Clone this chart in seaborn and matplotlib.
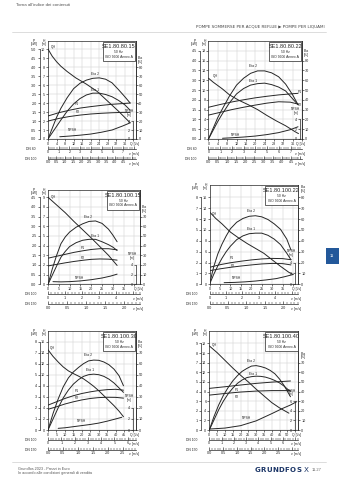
import numpy as np
import matplotlib
matplotlib.use("Agg")
import matplotlib.pyplot as plt
import seaborn as sns
from matplotlib.patches import Rectangle
from matplotlib.lines import Line2D
from matplotlib.ticker import MultipleLocator

# ---------------- SE1.80.80.15 ----------------
c1_q = [0, 2, 4, 6, 9, 13, 18, 23, 28, 33, 38.5]
c1_h = [10.0, 9.2, 8.6, 8.1, 7.5, 6.8, 6.1, 5.3, 4.2, 3.1, 1.8]
c1_q_eta = [0, 2, 4, 6, 9, 12, 15, 18, 21, 24, 27, 30, 33, 36, 38.5]
c1_eta1 = [0, 7, 14, 21, 31, 39, 45, 49, 51, 51, 49.5, 47, 43, 38, 32]
c1_eta2 = [0, 12, 24, 34, 46, 56, 62, 65.5, 67.5, 68, 66.5, 62.5, 55, 47, 40]
c1_q_p = [0, 5, 10, 15, 20, 25, 30, 35, 38.5]
c1_p1 = [1.28, 1.46, 1.6, 1.72, 1.8, 1.87, 1.93, 1.97, 2.0]
c1_p2 = [1.0, 1.14, 1.25, 1.33, 1.39, 1.43, 1.46, 1.48, 1.48]
c1_q_npsh = [5.5, 10, 15, 20, 25, 30, 35, 38.5]
c1_npsh = [0.5, 0.65, 0.85, 1.1, 1.5, 2.0, 2.9, 3.6]

# ---------------- SE1.80.80.22 ----------------
c2_q = [0, 2, 4, 6, 9, 13, 17, 21, 25, 29, 33, 37, 38.5]
c2_h = [12.4, 11.6, 10.9, 10.2, 9.0, 7.9, 7.0, 6.0, 4.8, 3.7, 2.7, 1.5, 1.1]
c2_q_eta = [0, 2, 4, 6, 9, 12, 15, 18, 21, 24, 27, 30, 33, 36, 38.3]
c2_eta1 = [0, 9, 18, 26, 37, 46, 51.5, 55, 56.5, 57, 55.5, 53, 49, 41, 35]
c2_eta2 = [0, 11, 22, 31, 44, 55, 62, 67, 69.5, 69.5, 67.5, 63.5, 56, 45, 35]
c2_q_p = [0, 5, 10, 15, 20, 25, 30, 35, 38.3]
c2_p1 = [1.62, 1.76, 1.89, 2.0, 2.1, 2.18, 2.25, 2.3, 2.33]
c2_p2 = [1.22, 1.36, 1.5, 1.62, 1.73, 1.83, 1.9, 1.88, 1.78]
c2_q_npsh = [6, 10, 15, 20, 25, 30, 35, 38.3]
c2_npsh = [0.15, 0.25, 0.4, 0.6, 0.9, 1.3, 1.9, 2.5]

# ---------------- SE1.80.100.15 ----------------
c3_q = [0, 4, 8, 12, 16, 20, 24, 28, 32]
c3_h = [9.0, 8.2, 7.4, 6.5, 5.65, 4.8, 3.9, 3.0, 1.95]
c3_q_eta = [0, 2, 4, 6, 8, 10, 13, 16, 19, 22, 25, 28, 30, 32]
c3_eta1 = [0, 9.5, 19, 28, 34, 39, 43, 45.5, 46.5, 46.5, 44, 41, 38.5, 35]
c3_eta2 = [0, 16, 30, 42, 49, 54, 59, 62.5, 65, 65.5, 63, 57, 51, 44]
c3_q_p = [0, 4, 8, 12, 16, 20, 24, 28, 32]
c3_p1 = [1.35, 1.45, 1.55, 1.65, 1.73, 1.8, 1.84, 1.84, 1.78]
c3_p2 = [0.95, 1.03, 1.11, 1.18, 1.24, 1.29, 1.31, 1.3, 1.25]
c3_q_npsh = [2.3, 6, 10, 15, 20, 25, 29, 32]
c3_npsh = [0.55, 0.5, 0.55, 0.7, 0.95, 1.3, 1.7, 2.1]

# ---------------- SE1.80.100.22 ----------------
c4_q = [0, 3, 6, 10, 14, 18, 22, 26, 30, 34, 38, 40]
c4_h = [13.3, 12.1, 11.1, 9.6, 8.5, 7.5, 6.6, 5.7, 4.5, 3.3, 2.2, 1.8]
c4_q_eta = [0, 2, 4, 6, 8, 10, 13, 16, 19, 22, 25, 28, 31, 34, 37, 39]
c4_eta1 = [0, 9, 17, 24, 30, 35, 41, 44.5, 46.5, 47, 47, 45, 41.5, 36.5, 28.5, 22.5]
c4_eta2 = [0, 16, 28, 37, 44.5, 51, 57, 60.5, 62.5, 63, 62, 59.5, 55.5, 50.5, 41.5, 31.5]
c4_q_p = [0, 5, 10, 15, 20, 25, 30, 35, 39]
c4_p1 = [1.56, 1.8, 1.98, 2.12, 2.24, 2.33, 2.38, 2.36, 2.26]
c4_p2 = [1.25, 1.42, 1.56, 1.68, 1.78, 1.87, 1.92, 1.9, 1.78]
c4_q_npsh = [7, 12, 17, 22, 27, 32, 36, 40]
c4_npsh = [0.3, 0.35, 0.45, 0.6, 0.8, 1.05, 1.4, 1.8]

# ---------------- SE1.80.100.30 ----------------
c5_q = [0, 3, 6, 9, 12, 15, 18, 21, 24, 27, 30, 33, 36, 39, 42, 44.6]
c5_h = [14.5, 13.3, 12.3, 11.4, 10.7, 10.2, 9.75, 9.25, 8.6, 7.9, 7.1, 6.2, 5.3, 4.4, 3.4, 2.4]
c5_q_eta = [0, 3, 6, 9, 12, 15, 18, 21, 24, 27, 30, 33, 36, 39, 42, 44.6]
c5_eta1 = [0, 10, 20, 29, 36, 41.5, 45.5, 48.5, 50, 50.5, 50, 48.5, 46, 42.5, 38, 34]
c5_eta2 = [0, 15, 28, 39, 47, 52.5, 56.5, 60, 62.5, 63.2, 63, 61.5, 59, 55, 49, 40]
c5_q_p = [0, 5, 10, 15, 20, 25, 30, 35, 40, 44.6]
c5_p1 = [2.25, 2.55, 2.85, 3.1, 3.3, 3.45, 3.57, 3.65, 3.68, 3.6]
c5_p2 = [1.87, 2.1, 2.35, 2.55, 2.72, 2.85, 2.93, 2.96, 2.95, 2.88]
c5_q_npsh = [6, 10, 15, 20, 25, 30, 35, 40, 43.6]
c5_npsh = [0.3, 0.4, 0.6, 0.8, 1.0, 1.25, 1.6, 2.0, 2.3]

# ---------------- SE1.80.100.40 ----------------
c6_q = [0, 5, 10, 15, 20, 25, 30, 35, 40, 45, 51]
c6_h = [17.5, 16.1, 14.5, 12.9, 11.4, 10.0, 8.5, 7.1, 5.7, 4.6, 3.5]
c6_q_eta = [0, 3, 6, 9, 12, 15, 18, 21, 24, 27, 30, 33, 36, 39, 42, 45, 48, 52]
c6_eta1 = [0, 10.5, 21, 30, 37.5, 43.5, 48.5, 52, 54.5, 55.5, 56, 55.8, 55, 53.5, 51.5, 49, 45.5, 39.8]
c6_eta2 = [0, 14, 26, 36, 44, 51, 56.5, 61, 64, 66.5, 67, 66, 64.5, 62, 58.5, 53, 46, 34.6]
c6_q_p = [0, 10, 20, 30, 40, 52]
c6_p1 = [4.33, 4.5, 4.68, 4.85, 4.98, 5.1]
c6_p2 = [3.63, 3.8, 3.95, 4.05, 4.1, 4.1]
c6_q_npsh = [0, 10, 20, 25, 30, 36, 40, 47, 52, 56]
c6_npsh = [0.2, 0.4, 0.9, 1.4, 1.9, 2.8, 3.4, 4.5, 5.2, 5.9]

# ---------------- styling ----------------
sns.set_theme(style="white")
plt.rcParams["font.family"] = ["Liberation Sans", "DejaVu Sans"]
plt.rcParams["axes.linewidth"] = 0.5
plt.rcParams["xtick.bottom"] = True
plt.rcParams["ytick.left"] = True

INK = "#262626"
GRID = "#cdcdcd"
FS = 2.7
LW = 0.7

W, HPX = 339, 480
fig = plt.figure(figsize=(W / 100, HPX / 100), dpi=100)
fig.patch.set_facecolor("white")


def fx(x):
    return x / W


def fy(y):
    return 1 - y / HPX


def pt(px):
    return px * 0.72


def tick_style(a, axis="both", **sides):
    a.tick_params(axis=axis, labelsize=FS, length=1.3, width=0.45, pad=0.8,
                  colors=INK, **sides)


def draw_chart(spec, s):
    l, t, r, b = spec["box"]
    wpx, hpx = r - l, b - t
    qmax, hmax = spec["qmax"], spec["hmax"]
    ax = fig.add_axes([fx(l), fy(b), fx(r) - fx(l), fy(t) - fy(b)])
    axP = ax.twinx()
    axE = ax.twinx()
    axN = ax.twinx()

    kw = dict(color=INK, linewidth=LW, sort=False, estimator=None, legend=False)
    sns.lineplot(x=s["q"], y=s["h"], ax=ax, **kw)
    sns.lineplot(x=s["q_eta"], y=s["eta1"], ax=axE, **kw)
    sns.lineplot(x=s["q_eta"], y=s["eta2"], ax=axE, **kw)
    sns.lineplot(x=s["q_p"], y=s["p1"], ax=axP, **kw)
    sns.lineplot(x=s["q_p"], y=s["p2"], ax=axP, **kw)
    sns.lineplot(x=s["q_npsh"], y=s["npsh"], ax=axN, **kw)

    ax.set_xlim(0, qmax)
    ax.set_ylim(0, hmax)
    axP.set_ylim(0, hmax * spec["p_per_h"])
    axE.set_ylim(spec["eta0"], spec["eta0"] + hmax * spec["eta_per_h"])
    axN.set_ylim(0, hmax * spec["npsh_per_h"])
    for a in (ax, axP, axE, axN):
        a.set_xlabel("")
        a.set_ylabel("")

    # flow axis and head axis
    qt = np.arange(0, qmax + 1e-9, spec["qstep"])
    cut = qmax * (1 - 8 / wpx)
    ax.set_xticks(qt)
    ax.set_xticklabels([f"{v:g}" if v <= cut else "" for v in qt])
    ht = np.arange(0, spec["htop"] + 1e-9, spec["hstep"])
    ax.set_yticks(ht)
    ax.set_yticklabels([f"{v:g}" for v in ht])
    ax.grid(True, color=GRID, lw=0.35)
    tick_style(ax, bottom=True, left=True)
    for sp in ax.spines.values():
        sp.set_color(INK)
        sp.set_linewidth(0.5)
    ax.annotate("Q [l/s]", xy=(1, 0), xycoords="axes fraction",
                xytext=(pt(3.2), -2.1), textcoords="offset points",
                ha="right", va="top", fontsize=FS * 0.92, color=INK)

    # power axis (outer left)
    for k in ("top", "right", "bottom"):
        axP.spines[k].set_visible(False)
    axP.spines["left"].set_visible(True)
    axP.spines["left"].set_position(("outward", pt(8.5)))
    axP.spines["left"].set_color(INK)
    axP.spines["left"].set_linewidth(0.5)
    axP.yaxis.set_ticks_position("left")
    p_ticks = ht * spec["p_per_h"]
    axP.set_yticks(p_ticks)
    axP.set_yticklabels([spec["pfmt"] % v for v in p_ticks])
    axP.spines["left"].set_bounds(0, p_ticks[-1])
    tick_style(axP, "y", left=True, right=False)

    # efficiency axis (right)
    for k in ("top", "left", "bottom"):
        axE.spines[k].set_visible(False)
    axE.spines["right"].set_color(INK)
    axE.spines["right"].set_linewidth(0.5)
    axE.yaxis.set_ticks_position("right")
    eta_ticks = spec["eta_ticks"]
    axE.set_yticks(eta_ticks)
    axE.set_yticklabels([f"{v:g}" for v in eta_ticks])
    tick_style(axE, "y", right=True, left=False)

    # NPSH axis (inside, right)
    for k in ("top", "right", "bottom"):
        axN.spines[k].set_visible(False)
    axN.spines["left"].set_visible(True)
    axN.spines["left"].set_color(INK)
    axN.spines["left"].set_linewidth(0.5)
    axN.spines["left"].set_position(("axes", spec["npos"]))
    axN.yaxis.set_ticks_position("left")
    n_ticks = spec["npsh_ticks"]
    axN.set_yticks(n_ticks)
    axN.set_yticklabels([f"{v:g}" for v in n_ticks])
    axN.spines["left"].set_bounds(0, n_ticks[-1])
    tick_style(axN, "y", left=True, right=False)

    # axis headings
    def hy(hval):
        return b - hval / hmax * hpx

    fig.text(fx(l - 14), fy(t + 1.5), "P\n[kW]", ha="center", va="center",
             fontsize=FS * 0.9, color=INK, linespacing=0.95)
    fig.text(fx(l - 4), fy(t + 1.5), "H\n[m]", ha="center", va="center",
             fontsize=FS * 0.9, color=INK, linespacing=0.95)
    e_top = (eta_ticks[-1] - spec["eta0"]) / spec["eta_per_h"]
    fig.text(fx(r + 2), fy(hy(e_top + 0.75 * spec["hstep"])), "Eta\n[%]",
             ha="left", va="center", fontsize=FS * 0.9, color=INK,
             linespacing=0.95)
    n_top = n_ticks[-1] / spec["npsh_per_h"]
    nx = l + spec["npos"] * wpx
    fig.text(fx(nx - 4), fy(hy(n_top + 0.9 * spec["hstep"])), "NPSH\n[m]",
             ha="center", va="center", fontsize=FS * 0.9, color=INK,
             linespacing=0.95)

    # curve names
    for txt, q, h in spec["labels"]:
        ax.text(q, h, txt, fontsize=FS * 0.9, color=INK, ha="center",
                va="center")

    # model box
    bx0, bx1 = r - 33, r - 0.6
    by0, by1 = t + 0.6, t + 20
    fig.add_artist(Rectangle((fx(bx0), fy(by1)), fx(bx1) - fx(bx0),
                             fy(by0) - fy(by1), transform=fig.transFigure,
                             facecolor="white", edgecolor=INK, lw=0.5,
                             zorder=10))
    cx = (bx0 + bx1) / 2
    fig.text(fx(cx), fy(t + 5.5), spec["name"], ha="center", va="center",
             fontsize=4.0, color=INK, zorder=11)
    fig.text(fx(cx), fy(t + 11), "50 Hz", ha="center", va="center",
             fontsize=FS * 0.9, color=INK, zorder=11)
    fig.text(fx(cx), fy(t + 15.5), "ISO 9906 Annex A", ha="center",
             va="center", fontsize=FS * 0.9, color=INK, zorder=11)

    # velocity rulers for the two pipe sizes
    for k, (dn_name, dn_mm, major, minor, fmt) in enumerate(spec["dn"]):
        y = b + 10 + 10 * k
        area = np.pi / 4 * (dn_mm / 1000) ** 2
        vmax = qmax / 1000 / area
        rax = fig.add_axes([fx(l), fy(y), fx(r) - fx(l), 0.4 / HPX])
        rax.patch.set_visible(False)
        rax.set_xlim(0, vmax)
        rax.set_ylim(0, 1)
        for sp in ("top", "left", "right"):
            rax.spines[sp].set_visible(False)
        rax.spines["bottom"].set_visible(True)
        rax.spines["bottom"].set_linewidth(0.5)
        rax.spines["bottom"].set_color(INK)
        rax.set_yticks([])
        vt = np.arange(0, vmax + 1e-9, major)
        vcut = vmax * (1 - 8 / wpx)
        rax.set_xticks(vt)
        rax.set_xticklabels([fmt % v if v <= vcut else "" for v in vt])
        rax.xaxis.set_minor_locator(MultipleLocator(minor))
        rax.tick_params(axis="x", which="major", direction="in", length=2.2,
                        width=0.45, labelsize=FS, pad=1.0, colors=INK,
                        bottom=True)
        rax.tick_params(axis="x", which="minor", direction="in", length=1.2,
                        width=0.35, colors=INK, bottom=True)
        rax.annotate("v [m/s]", xy=(1, 0), xycoords="axes fraction",
                     xytext=(pt(3.2), -1.8), textcoords="offset points",
                     ha="right", va="top", fontsize=FS * 0.92, color=INK)
        fig.text(fx(l - 12), fy(y), dn_name, ha="right", va="center",
                 fontsize=FS * 0.9, color=INK)


DN_80 = ("DN 80", 80, 1, 0.2, "%d")
DN_100_FINE = ("DN 100", 100, 0.5, 0.1, "%.1f")
DN_100 = ("DN 100", 100, 1, 0.2, "%d")
DN_150 = ("DN 150", 150, 0.5, 0.1, "%.1f")

charts = [
    (dict(name="SE1.80.80.15", box=(48, 41, 135.5, 139), qmax=41, qstep=4,
          hmax=10.9, htop=10, hstep=1, p_per_h=0.5, pfmt="%.1f",
          eta0=0, eta_per_h=10, eta_ticks=list(range(0, 81, 10)),
          npsh_per_h=2, npsh_ticks=[0, 2, 4], npos=0.975,
          dn=[DN_80, DN_100_FINE],
          labels=[("QH", 2.6, 10.2), ("Eta 2", 22.2, 7.2), ("Eta 1", 22.2, 5.5),
                  ("P1", 13.5, 3.9), ("P2", 14.2, 3.0), ("NPSH", 11.2, 0.95)]),
     dict(q=c1_q, h=c1_h, q_eta=c1_q_eta, eta1=c1_eta1, eta2=c1_eta2,
          q_p=c1_q_p, p1=c1_p1, p2=c1_p2, q_npsh=c1_q_npsh, npsh=c1_npsh)),
    (dict(name="SE1.80.80.22", box=(208.5, 41, 302, 139), qmax=40, qstep=4,
          hmax=20, htop=18, hstep=2, p_per_h=0.25, pfmt="%.1f",
          eta0=0, eta_per_h=5, eta_ticks=list(range(0, 81, 10)),
          npsh_per_h=1, npsh_ticks=[0, 2, 4], npos=0.975,
          dn=[DN_80, DN_100_FINE],
          labels=[("QH", 2.9, 12.9), ("Eta 2", 19.1, 14.8), ("Eta 1", 19.1, 11.9),
                  ("P1", 38.9, 9.6), ("P2", 38.9, 7.0), ("NPSH", 11.4, 0.8)]),
     dict(q=c2_q, h=c2_h, q_eta=c2_q_eta, eta1=c2_eta1, eta2=c2_eta2,
          q_p=c2_q_p, p1=c2_p1, p2=c2_p2, q_npsh=c2_q_npsh, npsh=c2_npsh)),
    (dict(name="SE1.80.100.15", box=(48, 190, 140, 284.3), qmax=42.6, qstep=5,
          hmax=9.75, htop=9, hstep=1, p_per_h=0.5, pfmt="%.1f",
          eta0=0, eta_per_h=10, eta_ticks=list(range(0, 71, 10)),
          npsh_per_h=2, npsh_ticks=[0, 2, 4], npos=0.96,
          dn=[DN_100, DN_150],
          labels=[("QH", 2.6, 9.05), ("Eta 2", 18.5, 6.95), ("Eta 1", 21.7, 5.0),
                  ("P1", 16.3, 3.75), ("P2", 16.3, 2.75), ("NPSH", 14.7, 0.65)]),
     dict(q=c3_q, h=c3_h, q_eta=c3_q_eta, eta1=c3_eta1, eta2=c3_eta2,
          q_p=c3_q_p, p1=c3_p1, p2=c3_p2, q_npsh=c3_q_npsh, npsh=c3_npsh)),
    (dict(name="SE1.80.100.22", box=(209.5, 185, 298.3, 284.3), qmax=42.5, qstep=5,
          hmax=18.25, htop=16, hstep=2, p_per_h=0.5, pfmt="%d",
          eta0=0, eta_per_h=5, eta_ticks=list(range(0, 81, 10)),
          npsh_per_h=1, npsh_ticks=[0, 2, 4], npos=0.965,
          dn=[DN_100, DN_150],
          labels=[("QH", 2.4, 13.0), ("Eta 2", 19.8, 13.4), ("Eta 1", 19.8, 10.2),
                  ("P1", 10.5, 4.75), ("P2", 11.1, 3.45), ("NPSH", 13, 1.15)]),
     dict(q=c4_q, h=c4_h, q_eta=c4_q_eta, eta1=c4_eta1, eta2=c4_eta2,
          q_p=c4_q_p, p1=c4_p1, p2=c4_p2, q_npsh=c4_q_npsh, npsh=c4_npsh)),
    (dict(name="SE1.80.100.30", box=(48, 331, 136, 430), qmax=52, qstep=5,
          hmax=17.9, htop=16, hstep=2, p_per_h=0.5, pfmt="%d",
          eta0=0, eta_per_h=5, eta_ticks=list(range(0, 71, 10)),
          npsh_per_h=1, npsh_ticks=[0, 2, 4], npos=0.965,
          dn=[DN_100, DN_150],
          labels=[("QH", 2.6, 14.9), ("Eta 2", 23.8, 13.5), ("Eta 1", 24.9, 10.9),
                  ("P1", 17, 7.0), ("P2", 17, 5.8), ("NPSH", 19.9, 1.6)]),
     dict(q=c5_q, h=c5_h, q_eta=c5_q_eta, eta1=c5_eta1, eta2=c5_eta2,
          q_p=c5_q_p, p1=c5_p1, p2=c5_p2, q_npsh=c5_q_npsh, npsh=c5_npsh)),
    (dict(name="SE1.80.100.40", box=(209.3, 331, 298.3, 430), qmax=57, qstep=5,
          hmax=20.6, htop=18, hstep=2, p_per_h=0.5, pfmt="%d",
          eta0=0, eta_per_h=5, eta_ticks=list(range(0, 71, 10)),
          npsh_per_h=1, npsh_ticks=[0, 2, 4, 6], npos=0.965,
          dn=[DN_100, DN_150],
          labels=[("QH", 3.4, 17.6), ("Eta 2", 26.7, 14.4), ("Eta 1", 28.2, 11.7),
                  ("P1", 17.6, 8.3), ("P2", 17.6, 6.8), ("NPSH", 24, 2.4)]),
     dict(q=c6_q, h=c6_h, q_eta=c6_q_eta, eta1=c6_eta1, eta2=c6_eta2,
          q_p=c6_q_p, p1=c6_p1, p2=c6_p2, q_npsh=c6_q_npsh, npsh=c6_npsh)),
]

for spec, series in charts:
    draw_chart(spec, series)

# ---------------- page furniture ----------------
fig.text(fx(16), fy(5.5), "Torna all'indice dei contenuti", ha="left",
         va="center", fontsize=3.2, color="#555555")
fig.text(fx(325), fy(26.8),
         "POMPE SOMMERSE PER ACQUE REFLUE \u25B6 POMPE PER LIQUAMI",
         ha="right", va="center", fontsize=2.95, color="#444444",
         family=["DejaVu Sans"])
fig.add_artist(Line2D([fx(12), fx(326)], [fy(31.7), fy(31.7)],
                      transform=fig.transFigure, color="#cfcfcf", lw=0.5))
fig.add_artist(Line2D([fx(12), fx(326)], [fy(461.7), fy(461.7)],
                      transform=fig.transFigure, color="#cfcfcf", lw=0.5))

# side tab
fig.add_artist(Rectangle((fx(325.5), fy(264)), fx(339) - fx(325.5),
                         fy(248.5) - fy(264), transform=fig.transFigure,
                         facecolor="#23589a", edgecolor="none", zorder=5))
fig.text(fx(332), fy(256.3), "11", ha="center", va="center", fontsize=3.0,
         color="white", zorder=6)

# footer
fig.text(fx(18), fy(469), "Grundfos 2023 - Prezzi in Euro", ha="left",
         va="center", fontsize=2.7, color="#555555")
fig.text(fx(18), fy(472.8), "In accordo alle condizioni generali di vendita",
         ha="left", va="center", fontsize=2.7, color="#555555")
for i, ch in enumerate("GRUNDFOS"):
    fig.text(fx(257.5 + i * 5.9), fy(470.2), ch, ha="center", va="center",
             fontsize=5.0, fontweight="bold", color="#1d3768",
             family="DejaVu Sans")
fig.text(fx(306), fy(470), "X", ha="center", va="center", fontsize=5.2,
         color="#1d3768", family="DejaVu Sans")
fig.text(fx(317), fy(470.3), "11.27", ha="center", va="center", fontsize=2.9,
         color="#666666")

fig.savefig("out.png", dpi=100, facecolor="white")
